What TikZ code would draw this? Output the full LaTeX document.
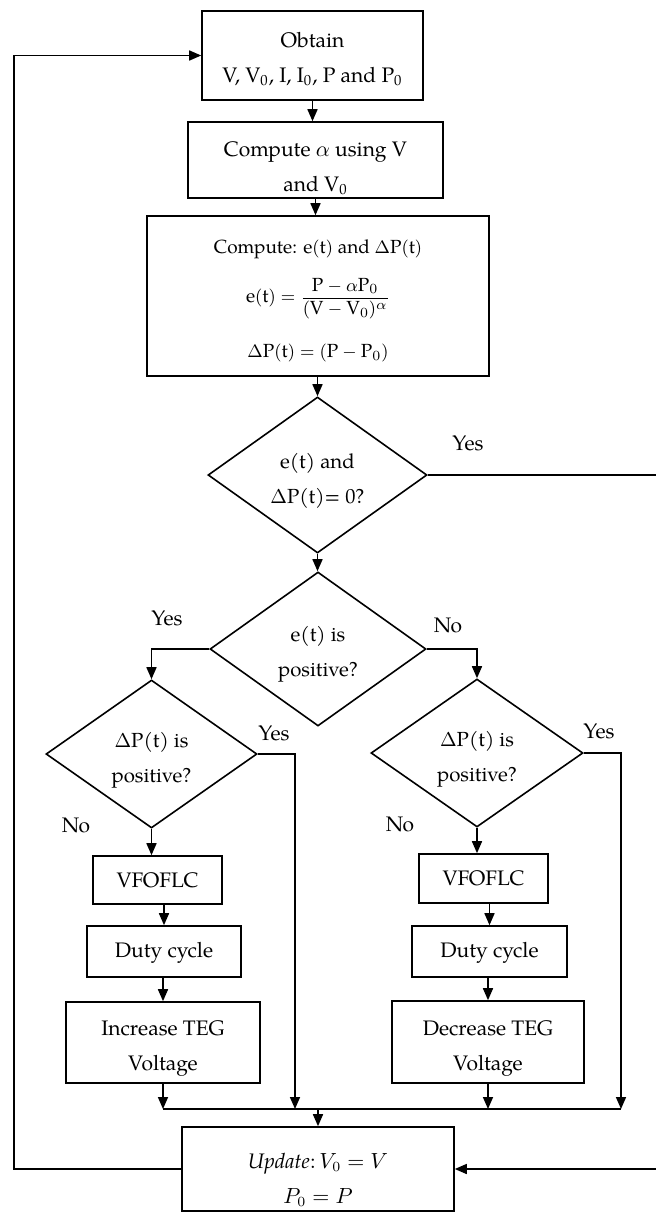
\documentclass[tikz,border=0pt]{standalone}
\usepackage{amsmath}
\usepackage{fontspec}
\setmainfont{TeX Gyre Pagella}
\usetikzlibrary{shapes.geometric,arrows.meta}
\newcommand{\myfs}{\fontsize{10.5}{17.5}\selectfont}
\newcommand{\mydfs}{\fontsize{10.2}{17.5}\selectfont}
\newcommand{\myefs}{\fontsize{9.5}{17.5}\selectfont}
\newcommand{\zs}{\textsubscript{0}}
\newcommand{\st}[1]{\rule{0pt}{#1}}
\begin{document}
\begin{tikzpicture}[x=0.5pt,y=-0.5pt,
  box/.style={draw, line width=0.8pt, rectangle, inner sep=0pt, align=center, font=\myfs},
  dia/.style={draw, line width=0.8pt, diamond, aspect=1.4, inner sep=0pt, align=center, font=\mydfs},
  arr/.style={-{Triangle[length=6pt,width=5pt]}, line width=0.8pt},
  plain/.style={line width=0.8pt},
  lab/.style={font=\myfs, inner sep=0pt}]
\useasboundingbox (0,0) rectangle (656,1216);
% boxes
\node[box, minimum width=110.5pt, minimum height=44.5pt] (b1) at (312.5,55.5) {\st{11pt}Obtain\\V, V\zs, I, I\zs, P and P\zs};
\node[box, minimum width=127.5pt, minimum height=38pt] (b2) at (315.5,160) {\st{16pt}Compute $\alpha$ using V\\and V\zs};
\node[box, font=\myefs, minimum width=171pt, minimum height=80pt] (b3) at (318,296) {\st{12pt}Compute: $\mathrm{e(t)}$ and $\Delta\mathrm{P(t)}$\\[7pt]
  $\mathrm{e(t)} = \dfrac{\mathrm{P}-\alpha\mathrm{P}_0}{(\mathrm{V}-\mathrm{V}_0)^{\alpha}}$\\[10pt]
  $\Delta\mathrm{P(t)} = (\mathrm{P}-\mathrm{P}_0)$};
\node[dia, minimum width=109.5pt, minimum height=78pt] (d1) at (317.5,475) {\st{13.5pt}e(t) and\\$\Delta$P(t)= 0?};
\node[dia, minimum width=108pt, minimum height=77pt] (d2) at (318,649) {\st{12.5pt}e(t) is\\positive?};
\node[dia, minimum width=105.5pt, minimum height=74pt] (d3) at (151.5,754) {\st{13.5pt}$\Delta$P(t) is\\positive?};
\node[dia, minimum width=106pt, minimum height=74pt] (d4) at (477,753) {\st{13.5pt}$\Delta$P(t) is\\positive?};
\node[box, minimum width=64.5pt, minimum height=24pt] (v1) at (157.5,880) {VFOFLC};
\node[box, minimum width=77pt, minimum height=25.5pt] (du1) at (164,951.5) {\st{8.5pt}Duty cycle};
\node[box, minimum width=97pt, minimum height=40.5pt] (in1) at (163,1042.5) {\st{13.5pt}Increase TEG\\Voltage};
\node[box, minimum width=64.5pt, minimum height=24.5pt] (v2) at (483.5,878.5) {VFOFLC};
\node[box, minimum width=77.5pt, minimum height=25.5pt] (du2) at (489.5,951.5) {\st{8.5pt}Duty cycle};
\node[box, minimum width=96pt, minimum height=41pt] (de2) at (488,1042) {\st{13.5pt}Decrease TEG\\Voltage};
\node[box, minimum width=136pt, minimum height=42pt] (up) at (318,1169) {\st{18.5pt}$\mathit{Update}{:}\,V_0 = V$\\$P_0 = P$};
% labels
\node[lab] (y1) at (468,443) {Yes};
\node[lab] (y2) at (167,618) {Yes};
\node[lab] (n2) at (448,625) {No};
\node[lab] (y3) at (274,733) {Yes};
\node[lab] (n3) at (76,825) {No};
\node[lab] (y4) at (599,731) {Yes};
\node[lab] (n4) at (400,824) {No};
% helper coordinates
\coordinate (lx) at (14,0);
\coordinate (rx) at (662,0);
\coordinate (mL) at (163,1109);
\coordinate (m1) at (295,1109);
\coordinate (mC) at (318,1109);
\coordinate (m3) at (488,1109);
\coordinate (mR) at (621,1109);
% connectors
\draw[arr] (b1.south) -- (b1.south |- b2.north);
\draw[arr] (b2.south) -- (b2.south |- b3.north);
\draw[arr] (b3.south -| d1.north) -- (d1.north);
\draw[arr] (d1.south) -- (d1.south |- d2.north);
\draw[arr] (d2.west) -| (d3.north);
\draw[arr] (d2.east) -| (d4.north);
\draw[arr] (d3.south) -- (d3.south |- v1.north);
\draw[arr] (v1.south -| du1.north) -- (du1.north);
\draw[arr] (du1.south -| in1.north) -- (in1.north);
\draw[arr] (in1.south) -- (in1.south |- mL);
\draw[arr] (d3.east) -| (m1);
\draw[arr] (d4.south) -- (d4.south |- v2.north);
\draw[arr] (v2.south -| du2.north) -- (du2.north);
\draw[arr] (du2.south -| de2.north) -- (de2.north);
\draw[arr] (de2.south) -- (de2.south |- m3);
\draw[arr] (d4.east) -| (mR);
\draw[plain] (mL) -- (mR);
\draw[arr] (mC) -- (mC |- up.north);
\draw[arr] (up.west) -- (up.west -| lx) -- (b1.west -| lx) -- (b1.west);
\draw[arr] (d1.east) -- (d1.east -| rx) -- (up.east -| rx) -- (up.east);
\end{tikzpicture}
\end{document}
